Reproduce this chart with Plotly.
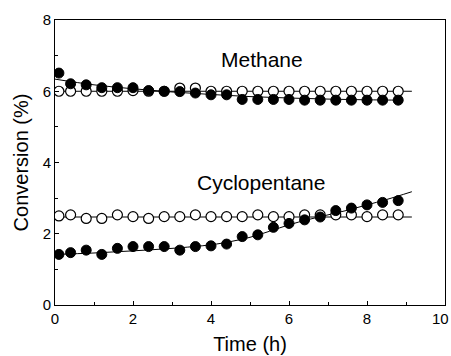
import plotly.graph_objects as go

time_h = [0.1, 0.4, 0.8, 1.2, 1.6, 2.0, 2.4, 2.8, 3.2, 3.6, 4.0, 4.4,
          4.8, 5.2, 5.6, 6.0, 6.4, 6.8, 7.2, 7.6, 8.0, 8.4, 8.8]

methane_filled = [6.51, 6.21, 6.18, 6.10, 6.10, 6.10, 6.02, 6.00, 5.99, 5.95, 5.90, 5.90,
                  5.77, 5.77, 5.77, 5.77, 5.75, 5.75, 5.75, 5.75, 5.75, 5.75, 5.75]
methane_open = [6.00, 6.00, 6.00, 6.00, 6.00, 6.02, 6.00, 6.00, 6.09, 6.09, 6.00, 6.00,
                6.00, 6.00, 6.00, 6.00, 6.00, 6.00, 6.00, 6.00, 6.00, 6.00, 6.00]
cyclo_filled = [1.42, 1.47, 1.54, 1.42, 1.59, 1.64, 1.64, 1.64, 1.54, 1.64, 1.66, 1.71,
                1.92, 1.97, 2.18, 2.29, 2.39, 2.47, 2.65, 2.72, 2.81, 2.88, 2.93]
cyclo_open = [2.50, 2.53, 2.43, 2.43, 2.53, 2.48, 2.43, 2.48, 2.48, 2.53, 2.48, 2.48,
              2.48, 2.53, 2.48, 2.48, 2.53, 2.53, 2.53, 2.53, 2.48, 2.53, 2.53]

# trend lines
methane_fit_x = [0.0, 1.0, 2.0, 3.0, 4.0, 5.0, 6.0, 7.0, 8.0, 8.9]
methane_fit_y = [6.34, 6.18, 6.07, 5.98, 5.91, 5.85, 5.81, 5.78, 5.76, 5.75]
methane_open_fit_x = [0.0, 9.15]
methane_open_fit_y = [6.0, 6.0]
cyclo_fit_x = [0.0, 1.0, 2.0, 3.0, 4.0, 4.5, 5.0, 5.5, 6.0, 6.5, 7.0, 7.5, 8.0, 8.5, 9.15]
cyclo_fit_y = [1.42, 1.46, 1.52, 1.59, 1.69, 1.78, 1.90, 2.07, 2.25, 2.40, 2.53, 2.66, 2.81, 2.96, 3.18]
cyclo_open_fit_x = [0.0, 9.15]
cyclo_open_fit_y = [2.47, 2.47]

fig = go.Figure()
line_style = dict(color="black", width=1)
for fx, fy in [(methane_fit_x, methane_fit_y), (methane_open_fit_x, methane_open_fit_y),
               (cyclo_fit_x, cyclo_fit_y), (cyclo_open_fit_x, cyclo_open_fit_y)]:
    fig.add_trace(go.Scatter(x=fx, y=fy, mode="lines", line=line_style,
                             line_shape="spline", showlegend=False, hoverinfo="skip"))

open_marker = dict(symbol="circle", size=10, color="white", line=dict(color="black", width=1.2))
filled_marker = dict(symbol="circle", size=10, color="black", line=dict(color="black", width=1))
fig.add_trace(go.Scatter(x=time_h, y=methane_open, mode="markers", marker=open_marker, showlegend=False))
fig.add_trace(go.Scatter(x=time_h, y=cyclo_open, mode="markers", marker=open_marker, showlegend=False))
fig.add_trace(go.Scatter(x=time_h, y=methane_filled, mode="markers", marker=filled_marker, showlegend=False))
fig.add_trace(go.Scatter(x=time_h, y=cyclo_filled, mode="markers", marker=filled_marker, showlegend=False))

fig.add_annotation(x=5.31, y=6.88, text="Methane", showarrow=False,
                   font=dict(size=21, color="black"))
fig.add_annotation(x=5.28, y=3.45, text="Cyclopentane", showarrow=False,
                   font=dict(size=21, color="black"))
# last x tick label, nudged left so it stays inside the picture
fig.add_annotation(x=10, xref="x", y=0, yref="paper", yanchor="top", yshift=-3,
                   xanchor="right", xshift=6,
                   text="10", showarrow=False, font=dict(size=15, color="black"))

axis_common = dict(showgrid=False, zeroline=False, showline=True, linecolor="black",
                   linewidth=1, mirror=True, ticks="inside", ticklen=4, tickcolor="black",
                   tickfont=dict(size=15, color="black"))
fig.update_xaxes(range=[0, 10], tickvals=[0, 2, 4, 6, 8], ticktext=["0", "2", "4", "6", "8"],
                 minor=dict(tickvals=[1, 3, 5, 7, 9, 10], ticks="inside", ticklen=3, tickcolor="black"),
                 title=dict(text="Time (h)", font=dict(size=20, color="black"), standoff=10),
                 **axis_common)
fig.update_yaxes(range=[0, 8], dtick=2, tick0=0,
                 minor=dict(dtick=1, ticks="inside", ticklen=3, tickcolor="black"),
                 title=dict(text="Conversion (%)", font=dict(size=20, color="black"), standoff=8),
                 **axis_common)

fig.update_layout(width=451, height=356, margin=dict(l=55, r=6, t=20, b=51),
                  plot_bgcolor="white", paper_bgcolor="white",
                  font=dict(family="Liberation Sans, Arial, sans-serif", color="black"))

fig.write_html("out.html")
